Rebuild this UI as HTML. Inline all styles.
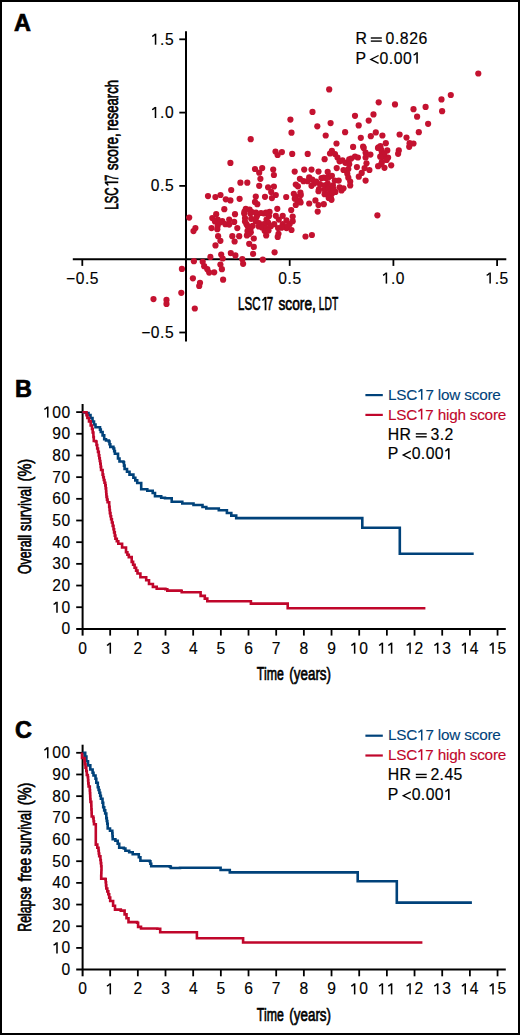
<!DOCTYPE html>
<html><head><meta charset="utf-8"><style>
html,body{margin:0;padding:0;background:#fff;overflow:hidden;}
svg{display:block;}
text{font-family:"Liberation Sans", sans-serif;}
</style></head><body>
<svg width="520" height="1035" viewBox="0 0 520 1035" font-family='"Liberation Sans", sans-serif'>
<rect x="0" y="0" width="520" height="1035" fill="#fff"/>
<rect x="1" y="1" width="518" height="1033" fill="none" stroke="#000" stroke-width="2"/>
<text x="13.90" y="30.70" font-size="23.4" font-weight="bold" fill="#000" stroke="#000" stroke-width="0.7">A</text>
<line x1="186.00" y1="31.20" x2="186.00" y2="341.50" stroke="#000" stroke-width="2.0" stroke-linecap="butt"/>
<line x1="72.80" y1="259.20" x2="506.30" y2="259.20" stroke="#000" stroke-width="2.0" stroke-linecap="butt"/>
<line x1="179.30" y1="39.30" x2="186.00" y2="39.30" stroke="#000" stroke-width="1.8" stroke-linecap="butt"/>
<path d="M155.55,44.70 L155.55,33.62" stroke="#000" stroke-width="1.53" fill="none"/>
<path d="M154.93,34.09 Q153.99,35.96 152.12,36.35" stroke="#000" stroke-width="1.48" fill="none"/>
<text x="160.09 164.98" y="44.70" font-size="15.6" fill="#000" stroke="#000" stroke-width="0.15">.5</text>
<line x1="179.30" y1="112.60" x2="186.00" y2="112.60" stroke="#000" stroke-width="1.8" stroke-linecap="butt"/>
<path d="M155.50,118.00 L155.50,106.92" stroke="#000" stroke-width="1.53" fill="none"/>
<path d="M154.89,107.39 Q153.94,109.26 152.07,109.65" stroke="#000" stroke-width="1.48" fill="none"/>
<text x="160.05 164.93" y="118.00" font-size="15.6" fill="#000" stroke="#000" stroke-width="0.15">.0</text>
<line x1="179.30" y1="185.90" x2="186.00" y2="185.90" stroke="#000" stroke-width="1.8" stroke-linecap="butt"/>
<text x="150.87 160.09 164.98" y="191.30" font-size="15.6" fill="#000" stroke="#000" stroke-width="0.15">0.5</text>
<line x1="179.30" y1="332.50" x2="186.00" y2="332.50" stroke="#000" stroke-width="1.8" stroke-linecap="butt"/>
<text x="141.21 150.87 160.09 164.98" y="337.90" font-size="15.6" fill="#000" stroke="#000" stroke-width="0.15">−0.5</text>
<line x1="82.30" y1="259.20" x2="82.30" y2="265.90" stroke="#000" stroke-width="1.8" stroke-linecap="butt"/>
<text x="66.02 75.68 84.91 89.79" y="283.60" font-size="15.6" fill="#000" stroke="#000" stroke-width="0.15">−0.5</text>
<line x1="289.70" y1="259.20" x2="289.70" y2="265.90" stroke="#000" stroke-width="1.8" stroke-linecap="butt"/>
<text x="278.33 287.56 292.44" y="283.60" font-size="15.6" fill="#000" stroke="#000" stroke-width="0.15">0.5</text>
<line x1="393.40" y1="259.20" x2="393.40" y2="265.90" stroke="#000" stroke-width="1.8" stroke-linecap="butt"/>
<path d="M386.40,283.60 L386.40,272.52" stroke="#000" stroke-width="1.53" fill="none"/>
<path d="M385.78,272.99 Q384.84,274.86 382.97,275.25" stroke="#000" stroke-width="1.48" fill="none"/>
<text x="390.94 395.83" y="283.60" font-size="15.6" fill="#000" stroke="#000" stroke-width="0.15">.0</text>
<line x1="497.10" y1="259.20" x2="497.10" y2="265.90" stroke="#000" stroke-width="1.8" stroke-linecap="butt"/>
<path d="M490.12,283.60 L490.12,272.52" stroke="#000" stroke-width="1.53" fill="none"/>
<path d="M489.51,272.99 Q488.56,274.86 486.69,275.25" stroke="#000" stroke-width="1.48" fill="none"/>
<text x="494.67 499.55" y="283.60" font-size="15.6" fill="#000" stroke="#000" stroke-width="0.15">.5</text>
<text x="355.60" y="43.90" font-size="15.8" fill="#000" stroke="#000" stroke-width="0.2">R</text>
<line x1="370.80" y1="38.00" x2="381.80" y2="38.00" stroke="#000" stroke-width="1.4" stroke-linecap="butt"/>
<line x1="370.80" y1="41.10" x2="381.80" y2="41.10" stroke="#000" stroke-width="1.4" stroke-linecap="butt"/>
<text x="385.58 394.92 399.86 409.20 418.53" y="43.90" font-size="15.8" fill="#000" stroke="#000" stroke-width="0.15">0.826</text>
<text x="355.60" y="63.50" font-size="15.8" fill="#000" stroke="#000" stroke-width="0.2">P</text>
<path d="M378.60,55.50 L370.80,59.45 L378.60,63.40" fill="none" stroke="#000" stroke-width="1.3"/>
<path d="M417.07,63.50 L417.07,52.28" stroke="#000" stroke-width="1.55" fill="none"/>
<path d="M416.45,52.76 Q415.49,54.65 413.60,55.05" stroke="#000" stroke-width="1.50" fill="none"/>
<text x="379.38 388.72 393.66 403.00" y="63.50" font-size="15.8" fill="#000" stroke="#000" stroke-width="0.15">0.00</text>
<text x="238.05" y="310.30" font-size="18.9" textLength="22.41" lengthAdjust="spacingAndGlyphs" fill="#000" stroke="#000" stroke-width="0.7">LSC</text>
<path d="M265.53,310.30 L265.53,296.88" stroke="#000" stroke-width="1.75" fill="none"/>
<path d="M264.81,297.45 Q264.38,299.72 262.31,300.19" stroke="#000" stroke-width="1.50" fill="none"/>
<text x="266.87" y="310.30" font-size="18.9" textLength="6.41" lengthAdjust="spacingAndGlyphs" fill="#000" stroke="#000" stroke-width="0.7">7</text>
<text x="278.52" y="310.30" font-size="18.9" textLength="37.31" lengthAdjust="spacingAndGlyphs" fill="#000" stroke="#000" stroke-width="0.7">score,</text>
<text x="318.86" y="310.30" font-size="18.9" textLength="19.38" lengthAdjust="spacingAndGlyphs" fill="#000" stroke="#000" stroke-width="0.7">LDT</text>
<g transform="translate(118.2,208.9) rotate(-90)">
<text x="-0.95" y="0.00" font-size="18.9" textLength="22.48" lengthAdjust="spacingAndGlyphs" fill="#000" stroke="#000" stroke-width="0.7">LSC</text>
<path d="M26.61,0.00 L26.61,-13.42" stroke="#000" stroke-width="1.75" fill="none"/>
<path d="M25.89,-12.85 Q25.46,-10.58 23.38,-10.11" stroke="#000" stroke-width="1.50" fill="none"/>
<text x="27.96" y="0.00" font-size="18.9" textLength="6.43" lengthAdjust="spacingAndGlyphs" fill="#000" stroke="#000" stroke-width="0.7">7</text>
<text x="38.62" y="0.00" font-size="18.9" textLength="37.10" lengthAdjust="spacingAndGlyphs" fill="#000" stroke="#000" stroke-width="0.7">score,</text>
<text x="78.13" y="0.00" font-size="18.9" textLength="50.71" lengthAdjust="spacingAndGlyphs" fill="#000" stroke="#000" stroke-width="0.7">research</text>
</g>
<g fill="#c41230">
<circle cx="329.2" cy="89.4" r="3.1"/>
<circle cx="312.5" cy="111.9" r="3.1"/>
<circle cx="290.4" cy="119.6" r="3.1"/>
<circle cx="317.3" cy="126.3" r="3.1"/>
<circle cx="330.6" cy="123.1" r="3.1"/>
<circle cx="378.7" cy="102.3" r="3.1"/>
<circle cx="395.0" cy="104.4" r="3.1"/>
<circle cx="413.5" cy="109.2" r="3.1"/>
<circle cx="425.6" cy="106.9" r="3.1"/>
<circle cx="417.1" cy="116.7" r="3.1"/>
<circle cx="428.1" cy="123.8" r="3.1"/>
<circle cx="373.5" cy="114.4" r="3.1"/>
<circle cx="368.7" cy="120.6" r="3.1"/>
<circle cx="355.0" cy="115.8" r="3.1"/>
<circle cx="358.7" cy="125.4" r="3.1"/>
<circle cx="478.3" cy="73.5" r="3.1"/>
<circle cx="450.8" cy="95.0" r="3.1"/>
<circle cx="441.5" cy="99.4" r="3.1"/>
<circle cx="442.1" cy="111.2" r="3.1"/>
<circle cx="230.4" cy="162.9" r="3.1"/>
<circle cx="231.2" cy="190.0" r="3.1"/>
<circle cx="291.5" cy="132.7" r="3.1"/>
<circle cx="250.7" cy="139.2" r="3.1"/>
<circle cx="275.5" cy="151.5" r="3.1"/>
<circle cx="277.6" cy="155.0" r="3.1"/>
<circle cx="281.9" cy="152.1" r="3.1"/>
<circle cx="292.2" cy="153.9" r="3.1"/>
<circle cx="255.0" cy="169.0" r="3.1"/>
<circle cx="262.2" cy="168.1" r="3.1"/>
<circle cx="259.2" cy="172.7" r="3.1"/>
<circle cx="273.2" cy="169.6" r="3.1"/>
<circle cx="273.9" cy="175.0" r="3.1"/>
<circle cx="294.7" cy="171.6" r="3.1"/>
<circle cx="304.2" cy="169.6" r="3.1"/>
<circle cx="325.7" cy="135.5" r="3.1"/>
<circle cx="345.1" cy="132.2" r="3.1"/>
<circle cx="360.8" cy="137.8" r="3.1"/>
<circle cx="370.8" cy="136.2" r="3.1"/>
<circle cx="375.8" cy="132.4" r="3.1"/>
<circle cx="336.5" cy="143.5" r="3.1"/>
<circle cx="363.1" cy="146.5" r="3.1"/>
<circle cx="378.5" cy="147.3" r="3.1"/>
<circle cx="307.7" cy="153.9" r="3.1"/>
<circle cx="330.0" cy="153.5" r="3.1"/>
<circle cx="324.6" cy="159.2" r="3.1"/>
<circle cx="311.5" cy="169.6" r="3.1"/>
<circle cx="318.5" cy="171.6" r="3.1"/>
<circle cx="327.7" cy="171.9" r="3.1"/>
<circle cx="309.2" cy="177.3" r="3.1"/>
<circle cx="321.5" cy="178.1" r="3.1"/>
<circle cx="382.4" cy="135.5" r="3.1"/>
<circle cx="399.6" cy="134.5" r="3.1"/>
<circle cx="418.8" cy="132.2" r="3.1"/>
<circle cx="406.5" cy="137.6" r="3.1"/>
<circle cx="409.6" cy="143.2" r="3.1"/>
<circle cx="413.5" cy="143.5" r="3.1"/>
<circle cx="409.2" cy="146.8" r="3.1"/>
<circle cx="385.8" cy="143.2" r="3.1"/>
<circle cx="380.4" cy="146.2" r="3.1"/>
<circle cx="398.8" cy="150.4" r="3.1"/>
<circle cx="398.1" cy="153.8" r="3.1"/>
<circle cx="387.3" cy="150.4" r="3.1"/>
<circle cx="381.9" cy="152.7" r="3.1"/>
<circle cx="384.2" cy="156.5" r="3.1"/>
<circle cx="388.1" cy="157.6" r="3.1"/>
<circle cx="381.9" cy="161.9" r="3.1"/>
<circle cx="391.2" cy="165.3" r="3.1"/>
<circle cx="384.5" cy="167.8" r="3.1"/>
<circle cx="208.0" cy="196.1" r="3.1"/>
<circle cx="215.4" cy="197.0" r="3.1"/>
<circle cx="220.5" cy="195.0" r="3.1"/>
<circle cx="225.8" cy="199.3" r="3.1"/>
<circle cx="224.3" cy="209.2" r="3.1"/>
<circle cx="189.2" cy="217.6" r="3.1"/>
<circle cx="216.2" cy="214.2" r="3.1"/>
<circle cx="212.3" cy="218.1" r="3.1"/>
<circle cx="217.7" cy="219.6" r="3.1"/>
<circle cx="222.3" cy="221.2" r="3.1"/>
<circle cx="225.4" cy="224.2" r="3.1"/>
<circle cx="229.2" cy="219.6" r="3.1"/>
<circle cx="195.4" cy="228.1" r="3.1"/>
<circle cx="211.5" cy="228.1" r="3.1"/>
<circle cx="217.7" cy="225.8" r="3.1"/>
<circle cx="260.4" cy="178.8" r="3.1"/>
<circle cx="299.9" cy="178.8" r="3.1"/>
<circle cx="240.4" cy="182.7" r="3.1"/>
<circle cx="247.3" cy="182.7" r="3.1"/>
<circle cx="259.2" cy="185.8" r="3.1"/>
<circle cx="268.1" cy="187.3" r="3.1"/>
<circle cx="273.9" cy="186.5" r="3.1"/>
<circle cx="295.8" cy="184.5" r="3.1"/>
<circle cx="303.5" cy="181.2" r="3.1"/>
<circle cx="271.2" cy="191.9" r="3.1"/>
<circle cx="275.8" cy="195.0" r="3.1"/>
<circle cx="271.9" cy="198.1" r="3.1"/>
<circle cx="265.0" cy="196.8" r="3.1"/>
<circle cx="255.8" cy="196.5" r="3.1"/>
<circle cx="286.2" cy="197.0" r="3.1"/>
<circle cx="295.8" cy="196.5" r="3.1"/>
<circle cx="300.4" cy="192.7" r="3.1"/>
<circle cx="297.3" cy="200.4" r="3.1"/>
<circle cx="295.8" cy="205.0" r="3.1"/>
<circle cx="239.6" cy="198.8" r="3.1"/>
<circle cx="230.4" cy="200.4" r="3.1"/>
<circle cx="255.0" cy="201.9" r="3.1"/>
<circle cx="257.3" cy="204.2" r="3.1"/>
<circle cx="277.3" cy="208.8" r="3.1"/>
<circle cx="291.2" cy="210.1" r="3.1"/>
<circle cx="235.0" cy="214.2" r="3.1"/>
<circle cx="245.8" cy="208.8" r="3.1"/>
<circle cx="249.6" cy="209.6" r="3.1"/>
<circle cx="244.2" cy="213.5" r="3.1"/>
<circle cx="250.4" cy="213.5" r="3.1"/>
<circle cx="245.0" cy="218.1" r="3.1"/>
<circle cx="251.2" cy="218.8" r="3.1"/>
<circle cx="257.3" cy="215.0" r="3.1"/>
<circle cx="264.2" cy="213.5" r="3.1"/>
<circle cx="269.6" cy="211.9" r="3.1"/>
<circle cx="255.8" cy="221.2" r="3.1"/>
<circle cx="266.5" cy="219.6" r="3.1"/>
<circle cx="268.1" cy="222.7" r="3.1"/>
<circle cx="246.5" cy="224.2" r="3.1"/>
<circle cx="252.7" cy="225.8" r="3.1"/>
<circle cx="258.8" cy="226.5" r="3.1"/>
<circle cx="234.2" cy="221.9" r="3.1"/>
<circle cx="237.3" cy="228.1" r="3.1"/>
<circle cx="275.8" cy="215.8" r="3.1"/>
<circle cx="282.7" cy="215.8" r="3.1"/>
<circle cx="292.7" cy="216.5" r="3.1"/>
<circle cx="278.8" cy="219.6" r="3.1"/>
<circle cx="286.5" cy="220.4" r="3.1"/>
<circle cx="274.2" cy="224.2" r="3.1"/>
<circle cx="282.7" cy="224.2" r="3.1"/>
<circle cx="289.6" cy="224.2" r="3.1"/>
<circle cx="278.1" cy="228.1" r="3.1"/>
<circle cx="286.5" cy="228.1" r="3.1"/>
<circle cx="292.7" cy="221.2" r="3.1"/>
<circle cx="307.7" cy="181.2" r="3.1"/>
<circle cx="326.2" cy="178.1" r="3.1"/>
<circle cx="311.5" cy="185.8" r="3.1"/>
<circle cx="320.0" cy="184.2" r="3.1"/>
<circle cx="327.7" cy="183.5" r="3.1"/>
<circle cx="318.5" cy="191.2" r="3.1"/>
<circle cx="324.6" cy="189.6" r="3.1"/>
<circle cx="330.8" cy="190.4" r="3.1"/>
<circle cx="335.4" cy="191.9" r="3.1"/>
<circle cx="341.5" cy="190.4" r="3.1"/>
<circle cx="324.6" cy="194.2" r="3.1"/>
<circle cx="330.8" cy="197.3" r="3.1"/>
<circle cx="309.2" cy="203.5" r="3.1"/>
<circle cx="315.4" cy="200.4" r="3.1"/>
<circle cx="318.5" cy="205.0" r="3.1"/>
<circle cx="323.8" cy="204.2" r="3.1"/>
<circle cx="317.7" cy="211.6" r="3.1"/>
<circle cx="377.4" cy="215.3" r="3.1"/>
<circle cx="193.5" cy="231.1" r="3.1"/>
<circle cx="215.0" cy="221.5" r="3.1"/>
<circle cx="220.4" cy="222.3" r="3.1"/>
<circle cx="217.3" cy="229.2" r="3.1"/>
<circle cx="218.1" cy="236.2" r="3.1"/>
<circle cx="220.4" cy="240.8" r="3.1"/>
<circle cx="215.5" cy="245.4" r="3.1"/>
<circle cx="210.4" cy="256.9" r="3.1"/>
<circle cx="221.2" cy="254.6" r="3.1"/>
<circle cx="222.7" cy="258.5" r="3.1"/>
<circle cx="193.9" cy="261.2" r="3.1"/>
<circle cx="202.7" cy="261.8" r="3.1"/>
<circle cx="204.2" cy="266.2" r="3.1"/>
<circle cx="207.3" cy="269.2" r="3.1"/>
<circle cx="214.2" cy="272.3" r="3.1"/>
<circle cx="220.4" cy="264.6" r="3.1"/>
<circle cx="221.9" cy="269.2" r="3.1"/>
<circle cx="181.9" cy="268.9" r="3.1"/>
<circle cx="229.2" cy="224.6" r="3.1"/>
<circle cx="232.3" cy="236.2" r="3.1"/>
<circle cx="239.2" cy="236.2" r="3.1"/>
<circle cx="234.6" cy="241.5" r="3.1"/>
<circle cx="247.7" cy="226.2" r="3.1"/>
<circle cx="250.8" cy="232.3" r="3.1"/>
<circle cx="246.9" cy="235.4" r="3.1"/>
<circle cx="253.8" cy="238.5" r="3.1"/>
<circle cx="249.2" cy="243.8" r="3.1"/>
<circle cx="253.8" cy="246.9" r="3.1"/>
<circle cx="253.1" cy="253.8" r="3.1"/>
<circle cx="264.6" cy="230.8" r="3.1"/>
<circle cx="266.2" cy="235.4" r="3.1"/>
<circle cx="270.8" cy="226.2" r="3.1"/>
<circle cx="278.5" cy="233.8" r="3.1"/>
<circle cx="277.7" cy="236.9" r="3.1"/>
<circle cx="281.5" cy="227.7" r="3.1"/>
<circle cx="287.7" cy="226.2" r="3.1"/>
<circle cx="291.5" cy="230.0" r="3.1"/>
<circle cx="274.6" cy="252.3" r="3.1"/>
<circle cx="262.8" cy="259.7" r="3.1"/>
<circle cx="242.3" cy="259.2" r="3.1"/>
<circle cx="243.1" cy="263.8" r="3.1"/>
<circle cx="230.8" cy="253.1" r="3.1"/>
<circle cx="235.4" cy="255.4" r="3.1"/>
<circle cx="305.5" cy="236.5" r="3.1"/>
<circle cx="311.9" cy="235.0" r="3.1"/>
<circle cx="192.9" cy="278.3" r="3.1"/>
<circle cx="200.0" cy="282.8" r="3.1"/>
<circle cx="199.2" cy="286.0" r="3.1"/>
<circle cx="209.2" cy="272.6" r="3.1"/>
<circle cx="223.1" cy="279.7" r="3.1"/>
<circle cx="181.3" cy="292.8" r="3.1"/>
<circle cx="153.5" cy="299.1" r="3.1"/>
<circle cx="166.5" cy="299.9" r="3.1"/>
<circle cx="166.5" cy="303.9" r="3.1"/>
<circle cx="194.8" cy="308.5" r="3.1"/>
<circle cx="244.5" cy="211.5" r="3.1"/>
<circle cx="245.0" cy="221.5" r="3.1"/>
<circle cx="247.5" cy="231.0" r="3.1"/>
<circle cx="249.0" cy="234.0" r="3.1"/>
<circle cx="250.5" cy="229.0" r="3.1"/>
<circle cx="252.0" cy="212.0" r="3.1"/>
<circle cx="256.0" cy="212.5" r="3.1"/>
<circle cx="261.0" cy="213.0" r="3.1"/>
<circle cx="266.0" cy="212.5" r="3.1"/>
<circle cx="269.0" cy="216.0" r="3.1"/>
<circle cx="256.5" cy="217.0" r="3.1"/>
<circle cx="259.0" cy="223.0" r="3.1"/>
<circle cx="264.0" cy="224.0" r="3.1"/>
<circle cx="262.0" cy="227.5" r="3.1"/>
<circle cx="266.5" cy="228.0" r="3.1"/>
<circle cx="268.5" cy="230.5" r="3.1"/>
<circle cx="314.2" cy="183.5" r="3.1"/>
<circle cx="312.3" cy="179.6" r="3.1"/>
<circle cx="316.2" cy="181.5" r="3.1"/>
<circle cx="323.8" cy="177.7" r="3.1"/>
<circle cx="328.2" cy="177.7" r="3.1"/>
<circle cx="324.8" cy="185.4" r="3.1"/>
<circle cx="319.0" cy="189.2" r="3.1"/>
<circle cx="328.7" cy="188.3" r="3.1"/>
<circle cx="333.5" cy="189.2" r="3.1"/>
<circle cx="327.7" cy="194.0" r="3.1"/>
<circle cx="332.5" cy="193.1" r="3.1"/>
<circle cx="328.7" cy="197.9" r="3.1"/>
<circle cx="331.5" cy="199.8" r="3.1"/>
<circle cx="297.9" cy="186.3" r="3.1"/>
<circle cx="300.8" cy="195.0" r="3.1"/>
<circle cx="381.3" cy="149.9" r="3.1"/>
<circle cx="384.4" cy="153.6" r="3.1"/>
<circle cx="380.2" cy="156.7" r="3.1"/>
<circle cx="386.6" cy="159.9" r="3.1"/>
<circle cx="381.3" cy="164.2" r="3.1"/>
<circle cx="293.8" cy="193.8" r="3.1"/>
<circle cx="294.8" cy="198.7" r="3.1"/>
<circle cx="299.6" cy="200.6" r="3.1"/>
<circle cx="300.6" cy="202.5" r="3.1"/>
<circle cx="331.9" cy="150.8" r="3.1"/>
<circle cx="335.0" cy="154.0" r="3.1"/>
<circle cx="337.5" cy="157.5" r="3.1"/>
<circle cx="339.6" cy="161.3" r="3.1"/>
<circle cx="342.5" cy="160.4" r="3.1"/>
<circle cx="345.4" cy="162.8" r="3.1"/>
<circle cx="349.2" cy="159.4" r="3.1"/>
<circle cx="351.2" cy="158.5" r="3.1"/>
<circle cx="355.0" cy="156.5" r="3.1"/>
<circle cx="357.9" cy="157.5" r="3.1"/>
<circle cx="349.2" cy="164.2" r="3.1"/>
<circle cx="348.3" cy="169.0" r="3.1"/>
<circle cx="347.3" cy="173.8" r="3.1"/>
<circle cx="348.3" cy="177.7" r="3.1"/>
<circle cx="350.2" cy="181.5" r="3.1"/>
<circle cx="350.2" cy="185.4" r="3.1"/>
<circle cx="343.5" cy="170.0" r="3.1"/>
<circle cx="336.7" cy="168.1" r="3.1"/>
<circle cx="363.7" cy="147.9" r="3.1"/>
<circle cx="365.6" cy="152.7" r="3.1"/>
<circle cx="365.6" cy="157.5" r="3.1"/>
<circle cx="366.5" cy="163.3" r="3.1"/>
<circle cx="364.6" cy="168.1" r="3.1"/>
<circle cx="369.4" cy="170.0" r="3.1"/>
<circle cx="361.7" cy="172.9" r="3.1"/>
<circle cx="358.8" cy="176.7" r="3.1"/>
<circle cx="365.6" cy="180.6" r="3.1"/>
<circle cx="370.4" cy="154.6" r="3.1"/>
<circle cx="356.9" cy="167.1" r="3.1"/>
<circle cx="353.1" cy="146.9" r="3.1"/>
<circle cx="378.1" cy="166.2" r="3.1"/>
<circle cx="378.0" cy="148.0" r="3.1"/>
<circle cx="331.9" cy="175.8" r="3.1"/>
<circle cx="334.8" cy="180.6" r="3.1"/>
<circle cx="338.7" cy="180.6" r="3.1"/>
<circle cx="332.9" cy="185.4" r="3.1"/>
<circle cx="339.6" cy="187.3" r="3.1"/>
<circle cx="343.5" cy="188.3" r="3.1"/>
</g>
<text x="14.90" y="396.70" font-size="23.4" font-weight="bold" fill="#000" stroke="#000" stroke-width="0.7">B</text>
<line x1="82.60" y1="404.00" x2="82.60" y2="635.60" stroke="#000" stroke-width="2.0" stroke-linecap="butt"/>
<line x1="76.20" y1="628.90" x2="505.80" y2="628.90" stroke="#000" stroke-width="2.0" stroke-linecap="butt"/>
<text x="61.53" y="634.40" font-size="15.6" fill="#000" stroke="#000" stroke-width="0.15">0</text>
<line x1="76.20" y1="607.22" x2="82.60" y2="607.22" stroke="#000" stroke-width="1.8" stroke-linecap="butt"/>
<path d="M56.99,612.72 L56.99,601.64" stroke="#000" stroke-width="1.53" fill="none"/>
<path d="M56.37,602.11 Q55.43,603.98 53.56,604.37" stroke="#000" stroke-width="1.48" fill="none"/>
<text x="61.53" y="612.72" font-size="15.6" fill="#000" stroke="#000" stroke-width="0.15">0</text>
<line x1="76.20" y1="585.54" x2="82.60" y2="585.54" stroke="#000" stroke-width="1.8" stroke-linecap="butt"/>
<text x="52.31 61.53" y="591.04" font-size="15.6" fill="#000" stroke="#000" stroke-width="0.15">20</text>
<line x1="76.20" y1="563.86" x2="82.60" y2="563.86" stroke="#000" stroke-width="1.8" stroke-linecap="butt"/>
<text x="52.31 61.53" y="569.36" font-size="15.6" fill="#000" stroke="#000" stroke-width="0.15">30</text>
<line x1="76.20" y1="542.18" x2="82.60" y2="542.18" stroke="#000" stroke-width="1.8" stroke-linecap="butt"/>
<text x="52.31 61.53" y="547.68" font-size="15.6" fill="#000" stroke="#000" stroke-width="0.15">40</text>
<line x1="76.20" y1="520.50" x2="82.60" y2="520.50" stroke="#000" stroke-width="1.8" stroke-linecap="butt"/>
<text x="52.31 61.53" y="526.00" font-size="15.6" fill="#000" stroke="#000" stroke-width="0.15">50</text>
<line x1="76.20" y1="498.82" x2="82.60" y2="498.82" stroke="#000" stroke-width="1.8" stroke-linecap="butt"/>
<text x="52.31 61.53" y="504.32" font-size="15.6" fill="#000" stroke="#000" stroke-width="0.15">60</text>
<line x1="76.20" y1="477.14" x2="82.60" y2="477.14" stroke="#000" stroke-width="1.8" stroke-linecap="butt"/>
<text x="52.31 61.53" y="482.64" font-size="15.6" fill="#000" stroke="#000" stroke-width="0.15">70</text>
<line x1="76.20" y1="455.46" x2="82.60" y2="455.46" stroke="#000" stroke-width="1.8" stroke-linecap="butt"/>
<text x="52.31 61.53" y="460.96" font-size="15.6" fill="#000" stroke="#000" stroke-width="0.15">80</text>
<line x1="76.20" y1="433.78" x2="82.60" y2="433.78" stroke="#000" stroke-width="1.8" stroke-linecap="butt"/>
<text x="52.31 61.53" y="439.28" font-size="15.6" fill="#000" stroke="#000" stroke-width="0.15">90</text>
<line x1="76.20" y1="412.10" x2="82.60" y2="412.10" stroke="#000" stroke-width="1.8" stroke-linecap="butt"/>
<path d="M47.76,417.60 L47.76,406.52" stroke="#000" stroke-width="1.53" fill="none"/>
<path d="M47.15,406.99 Q46.20,408.86 44.33,409.25" stroke="#000" stroke-width="1.48" fill="none"/>
<text x="52.31 61.53" y="417.60" font-size="15.6" fill="#000" stroke="#000" stroke-width="0.15">00</text>
<text x="78.16" y="653.70" font-size="15.6" fill="#000" stroke="#000" stroke-width="0.15">0</text>
<line x1="110.17" y1="628.90" x2="110.17" y2="635.60" stroke="#000" stroke-width="1.8" stroke-linecap="butt"/>
<path d="M110.30,653.70 L110.30,642.62" stroke="#000" stroke-width="1.53" fill="none"/>
<path d="M109.68,643.09 Q108.74,644.96 106.87,645.35" stroke="#000" stroke-width="1.48" fill="none"/>
<line x1="137.84" y1="628.90" x2="137.84" y2="635.60" stroke="#000" stroke-width="1.8" stroke-linecap="butt"/>
<text x="133.50" y="653.70" font-size="15.6" fill="#000" stroke="#000" stroke-width="0.15">2</text>
<line x1="165.51" y1="628.90" x2="165.51" y2="635.60" stroke="#000" stroke-width="1.8" stroke-linecap="butt"/>
<text x="161.22" y="653.70" font-size="15.6" fill="#000" stroke="#000" stroke-width="0.15">3</text>
<line x1="193.18" y1="628.90" x2="193.18" y2="635.60" stroke="#000" stroke-width="1.8" stroke-linecap="butt"/>
<text x="188.89" y="653.70" font-size="15.6" fill="#000" stroke="#000" stroke-width="0.15">4</text>
<line x1="220.85" y1="628.90" x2="220.85" y2="635.60" stroke="#000" stroke-width="1.8" stroke-linecap="butt"/>
<text x="216.53" y="653.70" font-size="15.6" fill="#000" stroke="#000" stroke-width="0.15">5</text>
<line x1="248.52" y1="628.90" x2="248.52" y2="635.60" stroke="#000" stroke-width="1.8" stroke-linecap="butt"/>
<text x="244.13" y="653.70" font-size="15.6" fill="#000" stroke="#000" stroke-width="0.15">6</text>
<line x1="276.19" y1="628.90" x2="276.19" y2="635.60" stroke="#000" stroke-width="1.8" stroke-linecap="butt"/>
<text x="271.84" y="653.70" font-size="15.6" fill="#000" stroke="#000" stroke-width="0.15">7</text>
<line x1="303.86" y1="628.90" x2="303.86" y2="635.60" stroke="#000" stroke-width="1.8" stroke-linecap="butt"/>
<text x="299.52" y="653.70" font-size="15.6" fill="#000" stroke="#000" stroke-width="0.15">8</text>
<line x1="331.53" y1="628.90" x2="331.53" y2="635.60" stroke="#000" stroke-width="1.8" stroke-linecap="butt"/>
<text x="327.20" y="653.70" font-size="15.6" fill="#000" stroke="#000" stroke-width="0.15">9</text>
<line x1="359.20" y1="628.90" x2="359.20" y2="635.60" stroke="#000" stroke-width="1.8" stroke-linecap="butt"/>
<path d="M354.64,653.70 L354.64,642.62" stroke="#000" stroke-width="1.53" fill="none"/>
<path d="M354.03,643.09 Q353.08,644.96 351.21,645.35" stroke="#000" stroke-width="1.48" fill="none"/>
<text x="359.19" y="653.70" font-size="15.6" fill="#000" stroke="#000" stroke-width="0.15">0</text>
<line x1="386.87" y1="628.90" x2="386.87" y2="635.60" stroke="#000" stroke-width="1.8" stroke-linecap="butt"/>
<path d="M382.39,653.70 L382.39,642.62" stroke="#000" stroke-width="1.53" fill="none"/>
<path d="M381.77,643.09 Q380.83,644.96 378.95,645.35" stroke="#000" stroke-width="1.48" fill="none"/>
<path d="M391.61,653.70 L391.61,642.62" stroke="#000" stroke-width="1.53" fill="none"/>
<path d="M391.00,643.09 Q390.05,644.96 388.18,645.35" stroke="#000" stroke-width="1.48" fill="none"/>
<line x1="414.54" y1="628.90" x2="414.54" y2="635.60" stroke="#000" stroke-width="1.8" stroke-linecap="butt"/>
<path d="M410.07,653.70 L410.07,642.62" stroke="#000" stroke-width="1.53" fill="none"/>
<path d="M409.45,643.09 Q408.51,644.96 406.64,645.35" stroke="#000" stroke-width="1.48" fill="none"/>
<text x="414.61" y="653.70" font-size="15.6" fill="#000" stroke="#000" stroke-width="0.15">2</text>
<line x1="442.21" y1="628.90" x2="442.21" y2="635.60" stroke="#000" stroke-width="1.8" stroke-linecap="butt"/>
<path d="M437.69,653.70 L437.69,642.62" stroke="#000" stroke-width="1.53" fill="none"/>
<path d="M437.07,643.09 Q436.13,644.96 434.26,645.35" stroke="#000" stroke-width="1.48" fill="none"/>
<text x="442.23" y="653.70" font-size="15.6" fill="#000" stroke="#000" stroke-width="0.15">3</text>
<line x1="469.88" y1="628.90" x2="469.88" y2="635.60" stroke="#000" stroke-width="1.8" stroke-linecap="butt"/>
<path d="M465.24,653.70 L465.24,642.62" stroke="#000" stroke-width="1.53" fill="none"/>
<path d="M464.63,643.09 Q463.68,644.96 461.81,645.35" stroke="#000" stroke-width="1.48" fill="none"/>
<text x="469.79" y="653.70" font-size="15.6" fill="#000" stroke="#000" stroke-width="0.15">4</text>
<line x1="497.55" y1="628.90" x2="497.55" y2="635.60" stroke="#000" stroke-width="1.8" stroke-linecap="butt"/>
<path d="M493.01,653.70 L493.01,642.62" stroke="#000" stroke-width="1.53" fill="none"/>
<path d="M492.40,643.09 Q491.45,644.96 489.58,645.35" stroke="#000" stroke-width="1.48" fill="none"/>
<text x="497.56" y="653.70" font-size="15.6" fill="#000" stroke="#000" stroke-width="0.15">5</text>
<text x="256.83" y="680.30" font-size="18.9" textLength="26.91" lengthAdjust="spacingAndGlyphs" fill="#000" stroke="#000" stroke-width="0.7">Time</text>
<text x="289.37" y="680.30" font-size="18.9" textLength="41.66" lengthAdjust="spacingAndGlyphs" fill="#000" stroke="#000" stroke-width="0.7">(years)</text>
<g transform="translate(30.5,573.5) rotate(-90)">
<text x="-0.59" y="0.00" font-size="18.9" textLength="39.21" lengthAdjust="spacingAndGlyphs" fill="#000" stroke="#000" stroke-width="0.7">Overall</text>
<text x="42.23" y="0.00" font-size="18.9" textLength="45.26" lengthAdjust="spacingAndGlyphs" fill="#000" stroke="#000" stroke-width="0.7">survival</text>
<text x="92.10" y="0.00" font-size="18.9" textLength="22.60" lengthAdjust="spacingAndGlyphs" fill="#000" stroke="#000" stroke-width="0.7">(%)</text>
</g>
<line x1="365.40" y1="395.10" x2="382.80" y2="395.10" stroke="#00427a" stroke-width="2.2" stroke-linecap="butt"/>
<line x1="365.40" y1="414.90" x2="382.80" y2="414.90" stroke="#c0062b" stroke-width="2.2" stroke-linecap="butt"/>
<path d="M421.72,399.80 L421.72,388.94" stroke="#00427a" stroke-width="1.50" fill="none"/>
<path d="M421.12,389.40 Q420.19,391.23 418.35,391.61" stroke="#00427a" stroke-width="1.45" fill="none"/>
<text x="387.94 396.26 406.27 425.44 433.76 437.81 441.02 449.33 460.19 464.24 471.70 479.15 487.47 492.37" y="399.80" font-size="15.3" fill="#00427a" stroke="#00427a" stroke-width="0.12">LSC7 low score</text>
<path d="M421.64,419.50 L421.64,408.64" stroke="#c0062b" stroke-width="1.50" fill="none"/>
<path d="M421.04,409.10 Q420.11,410.93 418.27,411.31" stroke="#c0062b" stroke-width="1.45" fill="none"/>
<text x="387.94 396.23 406.22 425.34 433.63 437.66 445.95 449.13 457.42 465.71 469.74 477.17 484.60 492.89 497.77" y="419.50" font-size="15.3" fill="#c0062b" stroke="#c0062b" stroke-width="0.12">LSC7 high score</text>
<text x="387.70 399.61" y="439.70" font-size="15.8" fill="#000" stroke="#000" stroke-width="0.2">HR</text>
<line x1="415.80" y1="433.85" x2="426.70" y2="433.85" stroke="#000" stroke-width="1.4" stroke-linecap="butt"/>
<line x1="415.80" y1="436.80" x2="426.70" y2="436.80" stroke="#000" stroke-width="1.4" stroke-linecap="butt"/>
<text x="430.60 439.79 444.58" y="439.70" font-size="15.8" fill="#000" stroke="#000" stroke-width="0.15">3.2</text>
<text x="387.70" y="459.30" font-size="15.8" fill="#000" stroke="#000" stroke-width="0.2">P</text>
<path d="M410.80,451.20 L403.20,455.05 L410.80,458.90" fill="none" stroke="#000" stroke-width="1.3"/>
<path d="M448.77,459.40 L448.77,448.18" stroke="#000" stroke-width="1.55" fill="none"/>
<path d="M448.15,448.66 Q447.19,450.55 445.30,450.95" stroke="#000" stroke-width="1.50" fill="none"/>
<text x="411.68 420.87 425.66 434.85" y="459.40" font-size="15.8" fill="#000" stroke="#000" stroke-width="0.15">0.00</text>
<path d="M82.5,412.5 L86.0,412.5 L86.0,413.0 L88.5,413.0 L88.5,415.0 L90.5,415.0 L90.5,418.0 L92.5,418.0 L92.5,421.5 L94.0,421.5 L94.0,424.5 L95.5,424.5 L95.5,427.2 L99.3,427.2 L100.0,427.2 L100.0,429.6 L100.8,429.6 L100.8,432.0 L102.6,432.0 L102.6,435.4 L104.2,435.4 L104.2,439.2 L106.0,439.2 L106.0,440.5 L108.8,440.5 L108.8,441.5 L109.5,441.5 L109.5,444.2 L110.3,444.2 L110.3,446.9 L113.4,446.9 L113.4,448.5 L114.2,448.5 L114.2,451.1 L114.9,451.1 L114.9,453.8 L118.0,453.8 L118.0,458.5 L119.5,458.5 L119.5,461.5 L123.4,461.5 L123.4,462.3 L124.0,462.3 L124.0,465.6 L124.6,465.6 L124.6,469.0 L127.0,469.0 L127.0,471.8 L129.5,471.8 L129.5,474.6 L133.4,474.6 L133.4,477.7 L135.3,477.7 L135.3,480.4 L137.2,480.4 L137.2,483.0 L141.2,483.0 L141.2,484.6 L141.2,489.2 L147.3,489.2 L147.3,490.8 L152.7,490.8 L152.7,493.0 L155.0,493.0 L155.0,496.2 L161.2,496.2 L161.2,497.7 L165.0,497.7 L165.0,498.3 L171.7,498.3 L171.7,501.7 L182.3,501.7 L182.3,503.5 L193.5,503.5 L193.5,505.0 L202.5,505.0 L202.5,507.0 L206.3,507.0 L206.3,508.5 L218.8,508.5 L218.8,510.2 L226.9,510.2 L226.9,513.0 L231.3,513.0 L231.3,515.6 L236.2,515.6 L236.2,518.1 L362.3,518.1 L362.3,527.7 L399.8,527.7 L399.8,553.8 L473.7,553.8" fill="none" stroke="#00427a" stroke-width="2.6" stroke-linejoin="miter" stroke-linecap="butt"/>
<path d="M82.5,412.3 L85.5,412.3 L86.5,412.3 L86.5,415.1 L87.4,415.1 L87.4,418.0 L89.0,418.0 L89.0,421.4 L90.7,421.4 L90.7,425.5 L92.0,425.5 L92.0,429.0 L92.7,429.0 L92.7,432.5 L93.4,432.5 L93.4,437.0 L93.8,437.0 L93.8,441.0 L95.7,441.0 L95.7,441.5 L96.5,441.5 L96.5,445.0 L97.2,445.0 L97.2,448.5 L98.0,448.5 L98.0,451.9 L98.8,451.9 L98.8,455.4 L99.3,455.4 L99.3,458.2 L99.8,458.2 L99.8,461.0 L100.3,461.0 L100.3,463.8 L100.7,463.8 L100.7,466.9 L101.1,466.9 L101.1,470.0 L102.6,470.0 L102.6,474.6 L103.2,474.6 L103.2,477.3 L103.8,477.3 L103.8,480.0 L104.5,480.0 L104.5,482.7 L105.3,482.7 L105.3,485.4 L105.7,485.4 L105.7,488.4 L106.1,488.4 L106.1,491.5 L106.3,491.5 L106.3,494.2 L106.5,494.2 L106.5,496.9 L107.0,496.9 L107.0,499.6 L107.6,499.6 L107.6,502.3 L109.2,502.3 L109.2,506.9 L109.6,506.9 L109.6,510.0 L109.9,510.0 L109.9,513.1 L110.5,513.1 L110.5,516.2 L111.1,516.2 L111.1,519.2 L111.9,519.2 L111.9,522.5 L112.7,522.5 L112.7,525.9 L113.5,525.9 L113.5,529.2 L114.1,529.2 L114.1,532.4 L114.8,532.4 L114.8,535.6 L115.4,535.6 L115.4,538.8 L116.8,538.8 L116.8,541.2 L118.3,541.2 L118.3,543.7 L122.1,543.7 L122.1,547.5 L126.0,547.5 L126.0,552.3 L127.4,552.3 L127.4,554.7 L128.8,554.7 L128.8,557.1 L131.7,557.1 L131.7,561.9 L133.1,561.9 L133.1,564.8 L134.6,564.8 L134.6,567.7 L136.1,567.7 L136.1,570.6 L137.5,570.6 L137.5,573.5 L140.4,573.5 L140.4,577.3 L146.2,577.3 L146.2,580.2 L149.0,580.2 L149.0,584.0 L152.9,584.0 L152.9,586.9 L156.7,586.9 L156.7,588.8 L165.4,588.8 L165.4,589.2 L167.3,589.2 L167.3,590.6 L180.8,590.6 L180.8,590.8 L181.7,590.8 L181.7,592.2 L200.6,592.2 L200.6,595.9 L204.8,595.9 L204.8,598.6 L207.3,598.6 L207.3,601.2 L250.9,601.2 L250.9,603.6 L287.7,603.6 L287.7,608.2 L425.4,608.2" fill="none" stroke="#c0062b" stroke-width="2.6" stroke-linejoin="miter" stroke-linecap="butt"/>
<text x="14.90" y="737.80" font-size="23.4" font-weight="bold" fill="#000" stroke="#000" stroke-width="0.7">C</text>
<line x1="82.60" y1="744.70" x2="82.60" y2="976.30" stroke="#000" stroke-width="2.0" stroke-linecap="butt"/>
<line x1="76.20" y1="969.60" x2="505.80" y2="969.60" stroke="#000" stroke-width="2.0" stroke-linecap="butt"/>
<text x="61.53" y="975.10" font-size="15.6" fill="#000" stroke="#000" stroke-width="0.15">0</text>
<line x1="76.20" y1="947.92" x2="82.60" y2="947.92" stroke="#000" stroke-width="1.8" stroke-linecap="butt"/>
<path d="M56.99,953.42 L56.99,942.34" stroke="#000" stroke-width="1.53" fill="none"/>
<path d="M56.37,942.81 Q55.43,944.68 53.56,945.07" stroke="#000" stroke-width="1.48" fill="none"/>
<text x="61.53" y="953.42" font-size="15.6" fill="#000" stroke="#000" stroke-width="0.15">0</text>
<line x1="76.20" y1="926.24" x2="82.60" y2="926.24" stroke="#000" stroke-width="1.8" stroke-linecap="butt"/>
<text x="52.31 61.53" y="931.74" font-size="15.6" fill="#000" stroke="#000" stroke-width="0.15">20</text>
<line x1="76.20" y1="904.56" x2="82.60" y2="904.56" stroke="#000" stroke-width="1.8" stroke-linecap="butt"/>
<text x="52.31 61.53" y="910.06" font-size="15.6" fill="#000" stroke="#000" stroke-width="0.15">30</text>
<line x1="76.20" y1="882.88" x2="82.60" y2="882.88" stroke="#000" stroke-width="1.8" stroke-linecap="butt"/>
<text x="52.31 61.53" y="888.38" font-size="15.6" fill="#000" stroke="#000" stroke-width="0.15">40</text>
<line x1="76.20" y1="861.20" x2="82.60" y2="861.20" stroke="#000" stroke-width="1.8" stroke-linecap="butt"/>
<text x="52.31 61.53" y="866.70" font-size="15.6" fill="#000" stroke="#000" stroke-width="0.15">50</text>
<line x1="76.20" y1="839.52" x2="82.60" y2="839.52" stroke="#000" stroke-width="1.8" stroke-linecap="butt"/>
<text x="52.31 61.53" y="845.02" font-size="15.6" fill="#000" stroke="#000" stroke-width="0.15">60</text>
<line x1="76.20" y1="817.84" x2="82.60" y2="817.84" stroke="#000" stroke-width="1.8" stroke-linecap="butt"/>
<text x="52.31 61.53" y="823.34" font-size="15.6" fill="#000" stroke="#000" stroke-width="0.15">70</text>
<line x1="76.20" y1="796.16" x2="82.60" y2="796.16" stroke="#000" stroke-width="1.8" stroke-linecap="butt"/>
<text x="52.31 61.53" y="801.66" font-size="15.6" fill="#000" stroke="#000" stroke-width="0.15">80</text>
<line x1="76.20" y1="774.48" x2="82.60" y2="774.48" stroke="#000" stroke-width="1.8" stroke-linecap="butt"/>
<text x="52.31 61.53" y="779.98" font-size="15.6" fill="#000" stroke="#000" stroke-width="0.15">90</text>
<line x1="76.20" y1="752.80" x2="82.60" y2="752.80" stroke="#000" stroke-width="1.8" stroke-linecap="butt"/>
<path d="M47.76,758.30 L47.76,747.22" stroke="#000" stroke-width="1.53" fill="none"/>
<path d="M47.15,747.69 Q46.20,749.56 44.33,749.95" stroke="#000" stroke-width="1.48" fill="none"/>
<text x="52.31 61.53" y="758.30" font-size="15.6" fill="#000" stroke="#000" stroke-width="0.15">00</text>
<text x="78.16" y="994.40" font-size="15.6" fill="#000" stroke="#000" stroke-width="0.15">0</text>
<line x1="110.17" y1="969.60" x2="110.17" y2="976.30" stroke="#000" stroke-width="1.8" stroke-linecap="butt"/>
<path d="M110.30,994.40 L110.30,983.32" stroke="#000" stroke-width="1.53" fill="none"/>
<path d="M109.68,983.79 Q108.74,985.66 106.87,986.05" stroke="#000" stroke-width="1.48" fill="none"/>
<line x1="137.84" y1="969.60" x2="137.84" y2="976.30" stroke="#000" stroke-width="1.8" stroke-linecap="butt"/>
<text x="133.50" y="994.40" font-size="15.6" fill="#000" stroke="#000" stroke-width="0.15">2</text>
<line x1="165.51" y1="969.60" x2="165.51" y2="976.30" stroke="#000" stroke-width="1.8" stroke-linecap="butt"/>
<text x="161.22" y="994.40" font-size="15.6" fill="#000" stroke="#000" stroke-width="0.15">3</text>
<line x1="193.18" y1="969.60" x2="193.18" y2="976.30" stroke="#000" stroke-width="1.8" stroke-linecap="butt"/>
<text x="188.89" y="994.40" font-size="15.6" fill="#000" stroke="#000" stroke-width="0.15">4</text>
<line x1="220.85" y1="969.60" x2="220.85" y2="976.30" stroke="#000" stroke-width="1.8" stroke-linecap="butt"/>
<text x="216.53" y="994.40" font-size="15.6" fill="#000" stroke="#000" stroke-width="0.15">5</text>
<line x1="248.52" y1="969.60" x2="248.52" y2="976.30" stroke="#000" stroke-width="1.8" stroke-linecap="butt"/>
<text x="244.13" y="994.40" font-size="15.6" fill="#000" stroke="#000" stroke-width="0.15">6</text>
<line x1="276.19" y1="969.60" x2="276.19" y2="976.30" stroke="#000" stroke-width="1.8" stroke-linecap="butt"/>
<text x="271.84" y="994.40" font-size="15.6" fill="#000" stroke="#000" stroke-width="0.15">7</text>
<line x1="303.86" y1="969.60" x2="303.86" y2="976.30" stroke="#000" stroke-width="1.8" stroke-linecap="butt"/>
<text x="299.52" y="994.40" font-size="15.6" fill="#000" stroke="#000" stroke-width="0.15">8</text>
<line x1="331.53" y1="969.60" x2="331.53" y2="976.30" stroke="#000" stroke-width="1.8" stroke-linecap="butt"/>
<text x="327.20" y="994.40" font-size="15.6" fill="#000" stroke="#000" stroke-width="0.15">9</text>
<line x1="359.20" y1="969.60" x2="359.20" y2="976.30" stroke="#000" stroke-width="1.8" stroke-linecap="butt"/>
<path d="M354.64,994.40 L354.64,983.32" stroke="#000" stroke-width="1.53" fill="none"/>
<path d="M354.03,983.79 Q353.08,985.66 351.21,986.05" stroke="#000" stroke-width="1.48" fill="none"/>
<text x="359.19" y="994.40" font-size="15.6" fill="#000" stroke="#000" stroke-width="0.15">0</text>
<line x1="386.87" y1="969.60" x2="386.87" y2="976.30" stroke="#000" stroke-width="1.8" stroke-linecap="butt"/>
<path d="M382.39,994.40 L382.39,983.32" stroke="#000" stroke-width="1.53" fill="none"/>
<path d="M381.77,983.79 Q380.83,985.66 378.95,986.05" stroke="#000" stroke-width="1.48" fill="none"/>
<path d="M391.61,994.40 L391.61,983.32" stroke="#000" stroke-width="1.53" fill="none"/>
<path d="M391.00,983.79 Q390.05,985.66 388.18,986.05" stroke="#000" stroke-width="1.48" fill="none"/>
<line x1="414.54" y1="969.60" x2="414.54" y2="976.30" stroke="#000" stroke-width="1.8" stroke-linecap="butt"/>
<path d="M410.07,994.40 L410.07,983.32" stroke="#000" stroke-width="1.53" fill="none"/>
<path d="M409.45,983.79 Q408.51,985.66 406.64,986.05" stroke="#000" stroke-width="1.48" fill="none"/>
<text x="414.61" y="994.40" font-size="15.6" fill="#000" stroke="#000" stroke-width="0.15">2</text>
<line x1="442.21" y1="969.60" x2="442.21" y2="976.30" stroke="#000" stroke-width="1.8" stroke-linecap="butt"/>
<path d="M437.69,994.40 L437.69,983.32" stroke="#000" stroke-width="1.53" fill="none"/>
<path d="M437.07,983.79 Q436.13,985.66 434.26,986.05" stroke="#000" stroke-width="1.48" fill="none"/>
<text x="442.23" y="994.40" font-size="15.6" fill="#000" stroke="#000" stroke-width="0.15">3</text>
<line x1="469.88" y1="969.60" x2="469.88" y2="976.30" stroke="#000" stroke-width="1.8" stroke-linecap="butt"/>
<path d="M465.24,994.40 L465.24,983.32" stroke="#000" stroke-width="1.53" fill="none"/>
<path d="M464.63,983.79 Q463.68,985.66 461.81,986.05" stroke="#000" stroke-width="1.48" fill="none"/>
<text x="469.79" y="994.40" font-size="15.6" fill="#000" stroke="#000" stroke-width="0.15">4</text>
<line x1="497.55" y1="969.60" x2="497.55" y2="976.30" stroke="#000" stroke-width="1.8" stroke-linecap="butt"/>
<path d="M493.01,994.40 L493.01,983.32" stroke="#000" stroke-width="1.53" fill="none"/>
<path d="M492.40,983.79 Q491.45,985.66 489.58,986.05" stroke="#000" stroke-width="1.48" fill="none"/>
<text x="497.56" y="994.40" font-size="15.6" fill="#000" stroke="#000" stroke-width="0.15">5</text>
<text x="256.83" y="1021.00" font-size="18.9" textLength="26.91" lengthAdjust="spacingAndGlyphs" fill="#000" stroke="#000" stroke-width="0.7">Time</text>
<text x="289.37" y="1021.00" font-size="18.9" textLength="41.66" lengthAdjust="spacingAndGlyphs" fill="#000" stroke="#000" stroke-width="0.7">(years)</text>
<g transform="translate(30.5,930.7) rotate(-90)">
<text x="-1.01" y="0.00" font-size="18.9" textLength="45.05" lengthAdjust="spacingAndGlyphs" fill="#000" stroke="#000" stroke-width="0.7">Relapse</text>
<text x="49.10" y="0.00" font-size="18.9" textLength="23.91" lengthAdjust="spacingAndGlyphs" fill="#000" stroke="#000" stroke-width="0.7">free</text>
<text x="76.03" y="0.00" font-size="18.9" textLength="44.65" lengthAdjust="spacingAndGlyphs" fill="#000" stroke="#000" stroke-width="0.7">survival</text>
<text x="125.50" y="0.00" font-size="18.9" textLength="22.60" lengthAdjust="spacingAndGlyphs" fill="#000" stroke="#000" stroke-width="0.7">(%)</text>
</g>
<line x1="365.40" y1="735.70" x2="382.80" y2="735.70" stroke="#00427a" stroke-width="2.2" stroke-linecap="butt"/>
<line x1="365.40" y1="755.50" x2="382.80" y2="755.50" stroke="#c0062b" stroke-width="2.2" stroke-linecap="butt"/>
<path d="M421.72,740.40 L421.72,729.54" stroke="#00427a" stroke-width="1.50" fill="none"/>
<path d="M421.12,730.00 Q420.19,731.83 418.35,732.21" stroke="#00427a" stroke-width="1.45" fill="none"/>
<text x="387.94 396.26 406.27 425.44 433.76 437.81 441.02 449.33 460.19 464.24 471.70 479.15 487.47 492.37" y="740.40" font-size="15.3" fill="#00427a" stroke="#00427a" stroke-width="0.12">LSC7 low score</text>
<path d="M421.64,760.10 L421.64,749.24" stroke="#c0062b" stroke-width="1.50" fill="none"/>
<path d="M421.04,749.70 Q420.11,751.53 418.27,751.91" stroke="#c0062b" stroke-width="1.45" fill="none"/>
<text x="387.94 396.23 406.22 425.34 433.63 437.66 445.95 449.13 457.42 465.71 469.74 477.17 484.60 492.89 497.77" y="760.10" font-size="15.3" fill="#c0062b" stroke="#c0062b" stroke-width="0.12">LSC7 high score</text>
<text x="387.70 399.61" y="780.30" font-size="15.8" fill="#000" stroke="#000" stroke-width="0.2">HR</text>
<line x1="415.80" y1="774.45" x2="426.70" y2="774.45" stroke="#000" stroke-width="1.4" stroke-linecap="butt"/>
<line x1="415.80" y1="777.40" x2="426.70" y2="777.40" stroke="#000" stroke-width="1.4" stroke-linecap="butt"/>
<text x="430.41 439.59 444.38 453.57" y="780.30" font-size="15.8" fill="#000" stroke="#000" stroke-width="0.15">2.45</text>
<text x="387.70" y="799.90" font-size="15.8" fill="#000" stroke="#000" stroke-width="0.2">P</text>
<path d="M410.80,791.80 L403.20,795.65 L410.80,799.50" fill="none" stroke="#000" stroke-width="1.3"/>
<path d="M448.77,800.00 L448.77,788.78" stroke="#000" stroke-width="1.55" fill="none"/>
<path d="M448.15,789.26 Q447.19,791.15 445.30,791.55" stroke="#000" stroke-width="1.50" fill="none"/>
<text x="411.68 420.87 425.66 434.85" y="800.00" font-size="15.8" fill="#000" stroke="#000" stroke-width="0.15">0.00</text>
<path d="M82.5,752.9 L84.1,752.9 L85.2,752.9 L85.2,756.6 L86.4,756.6 L86.4,761.2 L88.0,761.2 L88.0,765.4 L90.3,765.4 L90.3,769.5 L92.6,769.5 L92.6,772.8 L93.5,772.8 L93.5,775.5 L95.5,775.5 L95.5,778.8 L96.3,778.8 L96.3,782.7 L97.8,782.7 L97.8,787.3 L98.6,787.3 L98.6,790.0 L99.4,790.0 L99.4,792.7 L100.2,792.7 L100.2,795.8 L100.9,795.8 L100.9,798.8 L102.5,798.8 L102.5,802.7 L103.2,802.7 L103.2,807.3 L104.2,807.3 L104.2,810.4 L105.2,810.4 L105.2,813.5 L106.3,813.5 L106.3,818.1 L106.8,818.1 L106.8,821.0 L107.3,821.0 L107.3,823.8 L107.7,823.8 L107.7,828.5 L110.0,828.5 L110.0,830.8 L112.3,830.8 L112.3,833.1 L112.5,833.1 L112.5,836.2 L112.7,836.2 L112.7,839.2 L115.4,839.2 L115.4,840.8 L117.7,840.8 L117.7,843.8 L119.2,843.8 L119.2,847.7 L123.8,847.7 L123.8,848.5 L125.4,848.5 L125.4,850.8 L129.2,850.8 L129.2,852.3 L132.7,852.3 L132.7,854.2 L138.8,854.2 L138.8,857.3 L140.4,857.3 L140.4,860.8 L149.6,860.8 L149.6,861.2 L150.4,861.2 L150.4,863.8 L151.2,863.8 L151.2,866.3 L169.8,866.3 L169.8,866.6 L170.8,866.6 L170.8,868.0 L180.0,868.0 L180.0,867.8 L220.6,867.8 L220.6,870.0 L229.8,870.0 L229.8,872.4 L357.7,872.4 L357.7,881.2 L396.8,881.2 L396.8,902.6 L471.9,902.6" fill="none" stroke="#00427a" stroke-width="2.6" stroke-linejoin="miter" stroke-linecap="butt"/>
<path d="M82.0,752.4 L82.0,758.0 L84.3,758.0 L84.3,758.5 L84.5,758.5 L84.5,761.4 L84.8,761.4 L84.8,764.2 L85.5,764.2 L85.5,767.6 L86.3,767.6 L86.3,771.0 L86.8,771.0 L86.8,775.0 L87.8,775.0 L87.8,777.3 L88.1,777.3 L88.1,780.4 L88.3,780.4 L88.3,783.4 L88.6,783.4 L88.6,786.5 L89.8,786.5 L89.8,790.4 L90.0,790.4 L90.0,793.3 L90.2,793.3 L90.2,796.1 L90.3,796.1 L90.3,799.0 L90.5,799.0 L90.5,801.9 L91.3,801.9 L91.3,805.8 L91.4,805.8 L91.4,809.4 L91.6,809.4 L91.6,812.9 L91.7,812.9 L91.7,816.5 L93.2,816.5 L93.2,818.1 L93.6,818.1 L93.6,821.2 L94.0,821.2 L94.0,824.2 L95.8,824.2 L95.8,826.2 L95.8,844.6 L97.3,844.6 L97.3,847.7 L98.5,847.7 L98.5,850.8 L98.8,850.8 L98.8,853.5 L99.2,853.5 L99.2,856.2 L100.4,856.2 L100.4,860.0 L100.8,860.0 L100.8,863.1 L101.2,863.1 L101.2,866.2 L101.5,866.2 L101.5,870.0 L101.4,870.0 L101.4,872.9 L101.3,872.9 L101.3,875.9 L101.2,875.9 L101.2,878.8 L105.4,878.8 L105.4,879.2 L105.7,879.2 L105.7,882.3 L106.0,882.3 L106.0,885.4 L106.3,885.4 L106.3,888.5 L107.3,888.5 L107.3,891.4 L108.3,891.4 L108.3,894.2 L109.2,894.2 L109.2,897.6 L110.2,897.6 L110.2,901.0 L113.1,901.0 L113.1,905.8 L115.0,905.8 L115.0,909.6 L120.8,909.6 L120.8,910.6 L124.6,910.6 L124.6,914.4 L126.5,914.4 L126.5,918.2 L128.5,918.2 L128.5,922.1 L137.1,922.1 L137.1,922.7 L138.1,922.7 L138.1,926.9 L141.0,926.9 L141.0,928.5 L157.3,928.5 L157.3,928.8 L160.2,928.8 L160.2,932.3 L196.9,932.3 L196.9,938.3 L243.1,938.3 L243.1,942.5 L422.4,942.5" fill="none" stroke="#c0062b" stroke-width="2.6" stroke-linejoin="miter" stroke-linecap="butt"/>
</svg>
</body></html>
